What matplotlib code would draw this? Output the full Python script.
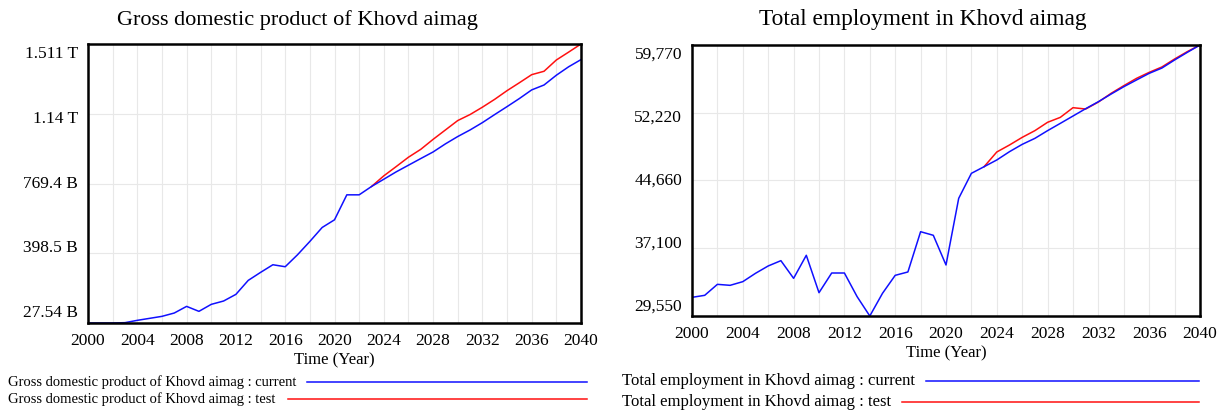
import numpy as np
import matplotlib
matplotlib.use("Agg")
import matplotlib.pyplot as plt
from matplotlib.lines import Line2D

plt.rcParams['font.family'] = ['Liberation Serif', 'DejaVu Serif']

# years of the simulation
years = list(range(2000, 2041))
test_years = list(range(2023, 2041))

# GDP of Khovd aimag (billion MNT)
gdp_current = [27.54, 27.6, 27.7, 29.3, 41.7, 52.3, 62.9, 80.6, 115.9, 89.5,
               126.7, 144.4, 179.8, 254.1, 296.6, 337.3, 326.7, 390.4, 461.2, 535.5,
               576.2, 709.0, 709.0, 753.2, 792.0, 831.0, 866.5, 902.0, 937.0, 980.0,
               1019.0, 1054.0, 1093.0, 1136.0, 1178.0, 1221.0, 1267.0, 1293.0, 1345.0, 1390.0,
               1428.0]
gdp_test = [753.2, 810.0, 859.0, 909.0, 951.0, 1004.0, 1054.0, 1104.0, 1136.0, 1175.0,
            1217.0, 1263.0, 1305.0, 1348.0, 1366.0, 1426.0, 1468.0, 1511.0]
gdp_ticks = ["27.54 B", "398.5 B", "769.4 B", "1.14 T", "1.511 T"]

# total employment
emp_current = [31630, 31855, 33080, 32970, 33380, 34310, 35130, 35720, 33750, 36320,
               32150, 34345, 34345, 31710, 29550, 32080, 34085, 34460, 38950, 38550,
               35240, 42670, 45460, 46200, 46950, 47875, 48690, 49360, 50220, 51030,
               51850, 52670, 53450, 54300, 55120, 55870, 56610, 57200, 58100, 58950,
               59770]
emp_test = [46200, 47840, 48620, 49470, 50220, 51150, 51700, 52780, 52630, 53410,
            54380, 55235, 56050, 56720, 57320, 58210, 59030, 59770]
emp_ticks = ["29,550", "37,100", "44,660", "52,220", "59,770"]

fig = plt.figure(figsize=(12.25, 4.11), dpi=100)
W, H = 1225, 411


def make_axes(l, t, r, b):
    return fig.add_axes([l / W, (H - b) / H, (r - l) / W, (b - t) / H])


def style(ax, ymin, ymax, labels, title_x, title, title_fs):
    ax.set_xlim(2000, 2040)
    ax.set_ylim(ymin, ymax)
    ax.set_xticks(range(2000, 2041, 2), minor=True)
    ax.set_xticks(range(2000, 2041, 4))
    ax.set_yticks(np.linspace(ymin, ymax, 5))
    ax.set_yticklabels([])
    ax.grid(True, which='both', color='#e8e8e8', lw=0.8)
    ax.set_axisbelow(True)
    ax.tick_params(which='both', length=0, labelsize=12.5, pad=7)
    for s in ax.spines.values():
        s.set_linewidth(1.8)
    ax.set_xlabel("Time (Year)", fontsize=12, labelpad=3)
    # vensim style y labels, spaced evenly a little inside the frame
    for k, lab in enumerate(labels):
        frac = 0.035 + k * (1 - 0.07) / 4
        ax.annotate(lab, xy=(0, frac), xycoords='axes fraction',
                    xytext=(-10, 0), textcoords='offset pixels',
                    ha='right', va='center', fontsize=12.5)
    fig.text(title_x / W, (H - 20) / H, title, ha='center', va='center', fontsize=title_fs)


ax1 = make_axes(88, 44, 581, 323)
ax1.plot(test_years, gdp_test, color='#ff1010', lw=1.1)
ax1.plot(years, gdp_current, color='#1010ff', lw=1.1)
style(ax1, gdp_current[0], gdp_test[-1], gdp_ticks, 297,
      "Gross domestic product of Khovd aimag", 16)

ax2 = make_axes(692, 45, 1200, 316)
ax2.plot(test_years, emp_test, color='#ff1010', lw=1.1)
ax2.plot(years, emp_current, color='#1010ff', lw=1.1)
style(ax2, 29550, 59770, emp_ticks, 923, "Total employment in Khovd aimag", 16.8)

# legends under each chart
legend = [
    (8, 382, 307, 587, "Gross domestic product of Khovd aimag : current", '#1010ff', 10.5),
    (8, 399, 288, 587, "Gross domestic product of Khovd aimag : test", '#ff1010', 10.5),
    (622, 381, 926, 1199, "Total employment in Khovd aimag : current", '#1010ff', 12),
    (622, 402, 902, 1199, "Total employment in Khovd aimag : test", '#ff1010', 12),
]
for x, y, x0, x1, txt, c, fs in legend:
    fig.text(x / W, (H - y) / H, txt, ha='left', va='center', fontsize=fs)
    fig.add_artist(Line2D([x0 / W, x1 / W], [(H - y) / H, (H - y) / H], color=c, lw=1.1))

fig.savefig("out.png", dpi=100)
